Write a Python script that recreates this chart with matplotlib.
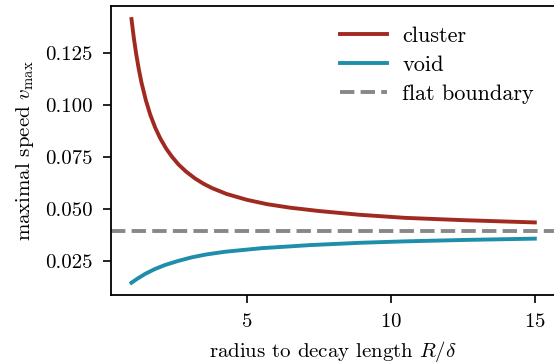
import matplotlib
matplotlib.use("Agg")
import matplotlib.pyplot as plt

# 値は図から読み取り
x_cluster = [1.0, 1.08, 1.16, 1.25, 1.35, 1.5, 1.65, 1.82, 2.0, 2.2, 2.4, 2.63, 2.9, 3.2, 3.5,
             3.8, 4.3, 5.0, 5.7, 6.5, 7.5, 8.9, 10.5, 12.5, 15.0]
v_cluster = [0.1412, 0.1323, 0.1247, 0.1174, 0.1105, 0.1021, 0.0953, 0.0891, 0.0838, 0.0790,
             0.0751, 0.0713, 0.0678, 0.0646, 0.0620, 0.0599, 0.0571, 0.0543, 0.0522, 0.0505,
             0.0489, 0.0471, 0.0456, 0.0445, 0.0434]
x_void = [1.0, 1.2, 1.47, 1.8, 2.16, 2.6, 3.09, 3.6, 4.25, 5.5, 7.2, 8.93, 10.5, 12.64, 15.0]
v_void = [0.0144, 0.0163, 0.0186, 0.0209, 0.0229, 0.0248, 0.0266, 0.0280, 0.0293, 0.0310,
          0.0325, 0.0336, 0.0343, 0.0350, 0.0356]
v_flat = 0.0391

xticks = [5, 10, 15]
yticks = [0.025, 0.050, 0.075, 0.100, 0.125]

plt.rcParams['font.family'] = 'serif'
plt.rcParams['font.serif'] = ['cmr10', 'DejaVu Serif']
plt.rcParams['mathtext.fontset'] = 'cm'
plt.rcParams['axes.formatter.use_mathtext'] = True
plt.rcParams['font.size'] = 15

fig = plt.figure(figsize=(5.54, 3.64), dpi=100)
ax = fig.add_axes([0.2004, 0.1896, 0.8014, 0.7939])

ax.plot(x_cluster, v_cluster, color="#a12a20", lw=2.8, label="cluster")
ax.plot(x_void, v_void, color="#1f8eaa", lw=2.8, label="void")
ax.axhline(v_flat, color="#888888", lw=2.8, ls="--", label="flat boundary")

ax.set_xlim(0.29, 15.7)
ax.set_ylim(0.0085, 0.1475)
ax.set_xticks(xticks)
ax.set_yticks(yticks)
ax.set_yticklabels([f"{t:.3f}" for t in yticks])
ax.tick_params(length=6, width=1.2, pad=7)
for s in ax.spines.values():
    s.set_linewidth(1.3)

ax.set_xlabel(r"radius to decay length $R/\delta$", labelpad=6)
ax.set_ylabel(r"maximal speed $v_{\max}$", labelpad=7)
ax.legend(loc="upper left", frameon=False, fontsize=16, handlelength=2.1,
          handletextpad=0.7, labelspacing=0.42, borderaxespad=0.0,
          bbox_to_anchor=(0.496, 0.96))

fig.savefig("out.png", dpi=100)
